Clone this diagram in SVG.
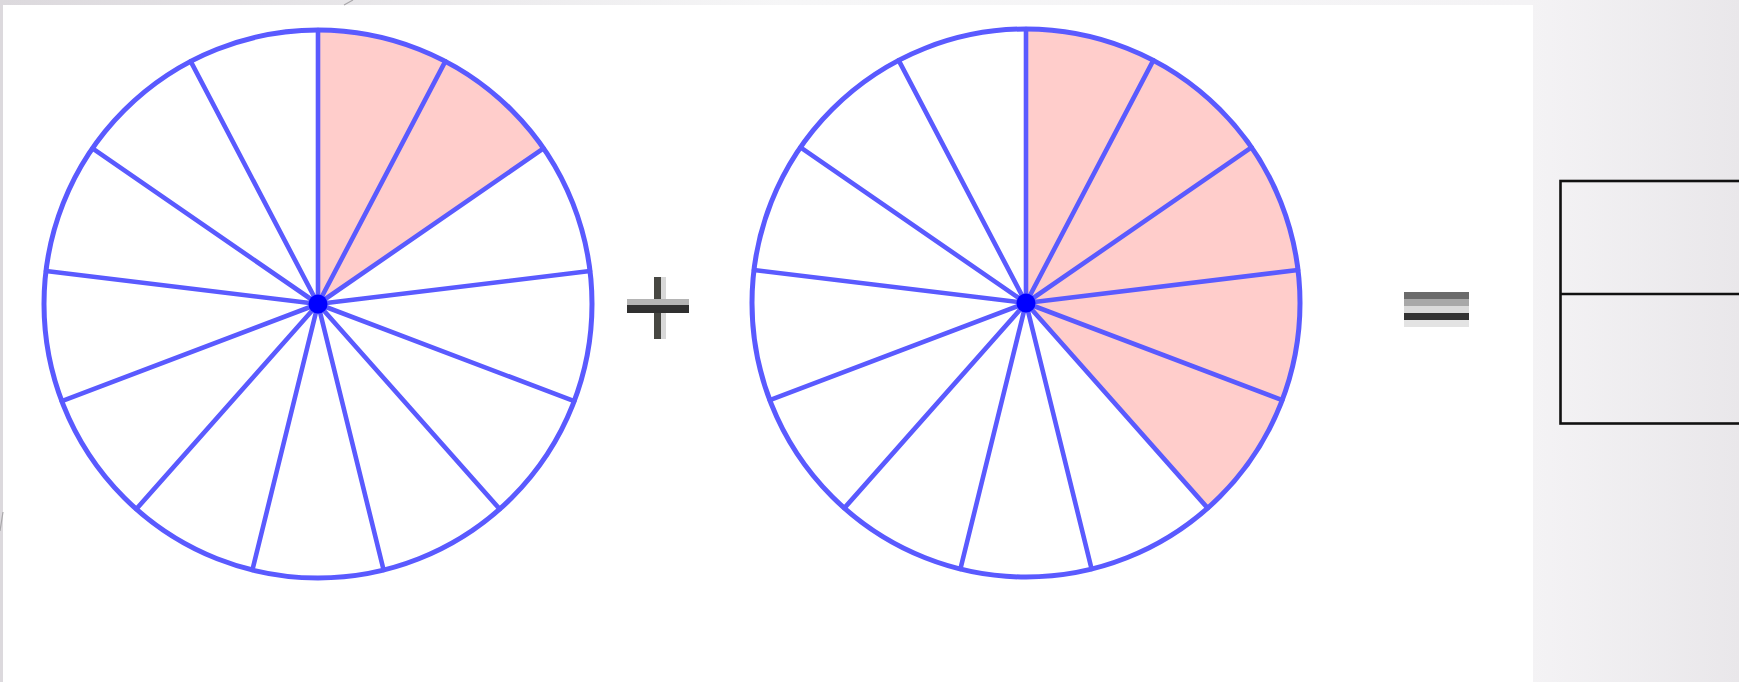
<svg xmlns="http://www.w3.org/2000/svg" xmlns:xlink="http://www.w3.org/1999/xlink" width="1739" height="682" viewBox="0 0 1739 682">
  <style>
    .rim { fill: none; stroke: #5a5aff; stroke-width: 5; }
    .spoke { fill: none; stroke: #5a5aff; stroke-width: 4.6; stroke-linecap: round; }
    .pink { fill: #ffcdcb; }
    .hub { fill: #0000ff; }
    .box { fill: none; stroke: #111111; stroke-width: 2.6; }
    .deco { stroke: #a9a7aa; stroke-width: 1.2; fill: none; }
  </style>
  <defs>
    <linearGradient id="bg" x1="0" y1="0" x2="1" y2="0">
      <stop offset="0" stop-color="#dcd9dd"/>
      <stop offset="0.45" stop-color="#f6f6f7"/>
      <stop offset="0.88" stop-color="#f4f3f5"/>
      <stop offset="1" stop-color="#e9e7ea"/>
    </linearGradient>
    <path id="spokes" class="spoke" d="M0,0L0,-274 M0,0L127.3,-242.6 M0,0L225.5,-155.6 M0,0L272,-33 M0,0L256.2,97.2 M0,0L181.7,205.1 M0,0L65.6,266 M0,0L-65.6,266 M0,0L-181.7,205.1 M0,0L-256.2,97.2 M0,0L-272,-33 M0,0L-225.5,-155.6 M0,0L-127.3,-242.6"/>
  </defs>

  <rect x="0" y="0" width="1739" height="682" fill="url(#bg)"/>
  <rect x="3" y="5" width="1530" height="677" fill="#ffffff"/>
  <line class="deco" x1="344" y1="5" x2="353" y2="0"/>
  <line class="deco" x1="0" y1="531" x2="3" y2="512"/>

  <g id="circle-left">
    <path class="pink" d="M318,304 L318,30 A274,274 0 0 1 543.5,148.4 Z"/>
    <use xlink:href="#spokes" href="#spokes" transform="translate(318,304)"/>
    <circle class="rim" cx="318" cy="304" r="274"/>
    <circle class="hub" cx="318" cy="304" r="9.5"/>
  </g>

  <g id="plus-sign">
    <rect x="661" y="277" width="5" height="62" fill="#d8d8d8"/>
    <rect x="654" y="277" width="7" height="62" fill="#474742"/>
    <rect x="627" y="299" width="62" height="6" fill="#b4b4b4"/>
    <rect x="627" y="305" width="62" height="8" fill="#303030"/>
  </g>

  <g id="circle-right">
    <path class="pink" d="M1026,303 L1026,29 A274,274 0 0 1 1207.7,508.1 Z"/>
    <use xlink:href="#spokes" href="#spokes" transform="translate(1026,303)"/>
    <circle class="rim" cx="1026" cy="303" r="274"/>
    <circle class="hub" cx="1026" cy="303" r="9.5"/>
  </g>

  <g id="equals-sign">
    <rect x="1404" y="292" width="65" height="7" fill="#6b6b6b"/>
    <rect x="1404" y="299" width="65" height="7" fill="#a8a8a8"/>
    <rect x="1404" y="306" width="65" height="7" fill="#dadada"/>
    <rect x="1404" y="313" width="65" height="7" fill="#333333"/>
    <rect x="1404" y="320" width="65" height="7" fill="#e3e3e3"/>
  </g>

  <g id="answer-box">
    <rect class="box" x="1560.5" y="181" width="200" height="242.5"/>
    <line class="box" x1="1560.5" y1="294" x2="1739" y2="294"/>
  </g>

  <g id="connectors"/>
</svg>
